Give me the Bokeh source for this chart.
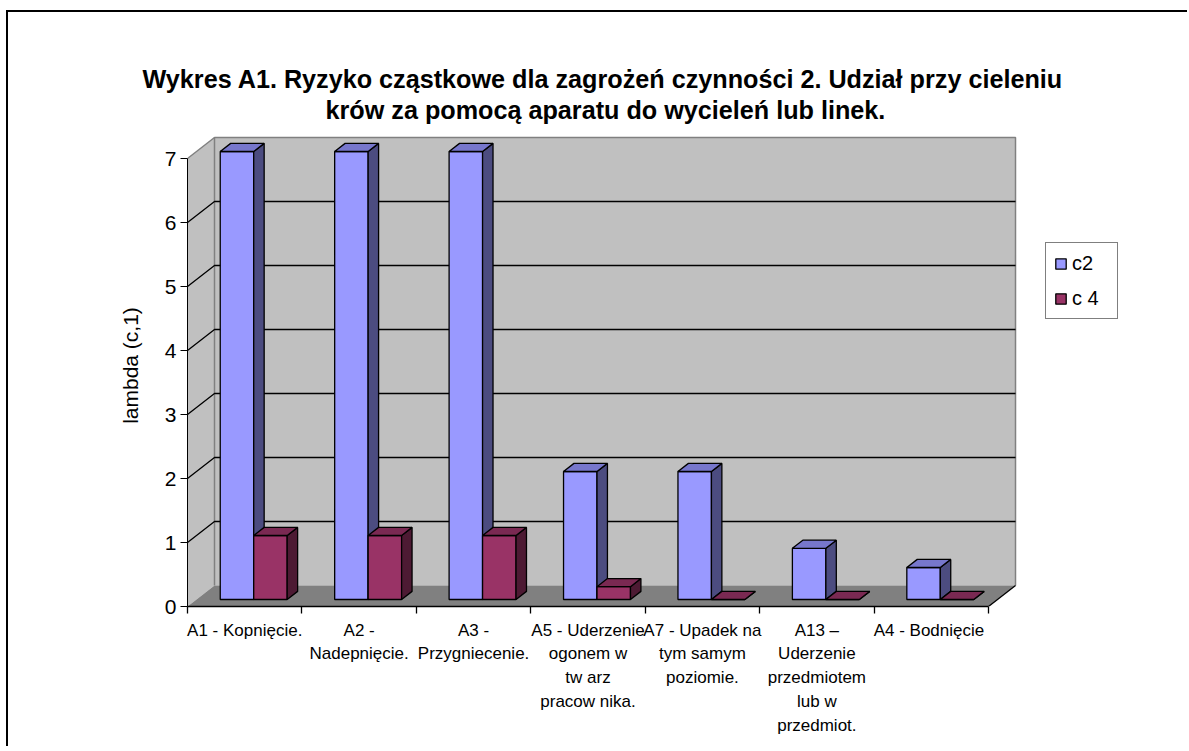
from bokeh.plotting import figure
from bokeh.models import (Range1d, FixedTicker, LinearAxis, Legend, LegendItem,
                          ColumnDataSource, Title)
from bokeh.embed import file_html
from bokeh.resources import INLINE

# ---------------- data ----------------
categories = [
    "A1 - Kopnięcie.",
    "A2 -\nNadepnięcie.",
    "A3 -\nPrzygniecenie.",
    "A5 - Uderzenie\nogonem w\ntw arz\npracow nika.",
    "A7 - Upadek na\ntym samym\npoziomie.",
    "A13 –\nUderzenie\nprzedmiotem\nlub w\nprzedmiot.",
    "A4  - Bodnięcie",
]
series_names = ["c2", "c 4"]
c2 = [7, 7, 7, 2, 2, 0.8, 0.5]
c4 = [1, 1, 1, 0.2, 0, 0, 0]
y_ticks = [0, 1, 2, 3, 4, 5, 6, 7]
title_lines = [
    "Wykres A1. Ryzyko cząstkowe dla zagrożeń czynności 2. Udział przy cieleniu",
    "krów za pomocą aparatu do wycieleń lub linek.",
]
y_label = "lambda (c,1)"

# ---------------- style / layout ----------------
FONT = "Liberation Sans"
OX, OY = 8, 12                                 # canvas origin on the page
W, H = 1181, 736
FL, FB, FT = 187 - OX, 606 - OY, 124 - OY      # frame edges in canvas px
FR = W
PX_CAT, PX_VAL = 114.43, 64.0                  # px per category / per unit
DX, DY = 27.0 / PX_CAT, 21.0 / PX_VAL          # full 3D depth in data units
F1, F2 = 1.0 / 3.0, 0.72                       # bar depth (front, back fraction)
BW = 0.2925                                    # bar width (category units)
TITLE_LEFT = [142, 325]                        # page x where each title line starts

blue = dict(front="#9999FF", side="#4C4C80", top="#7777CC")
red = dict(front="#993366", side="#4D1A33", top="#7A2952")

n = len(categories)
ymax = y_ticks[-1]

p = figure(width=W, height=H,
           x_range=Range1d(0, (FR - FL) / PX_CAT),
           y_range=Range1d(0, (FB - FT) / PX_VAL),
           x_axis_type=None, y_axis_type=None,
           output_backend="svg", toolbar_location=None,
           min_border_left=FL, min_border_right=0,
           min_border_top=FT, min_border_bottom=H - FB,
           title=None)
# chart-area border on the left and top only (drawn as a shadow, no layout effect)
p.styles = {"box-shadow": "-2px -2px 0 0 black",
            "margin-left": f"{OX}px", "margin-top": f"{OY}px"}
p.grid.visible = False
p.outline_line_color = None
p.background_fill_color = "white"
p.border_fill_color = "white"

# titles: second line nearest the frame, first line above it
for k, (line, stand) in enumerate([(title_lines[1], 2), (title_lines[0], 0)]):
    t = Title(text=line, align="left", offset=TITLE_LEFT[1 - k] - 187,
              text_font=FONT, text_font_size="25.2px", text_font_style="bold",
              text_color="black", standoff=stand)
    p.add_layout(t, "above")

# ---------------- walls ----------------
walls = ColumnDataSource(dict(
    xs=[[DX, n + DX, n + DX, DX], [0, DX, DX, 0], [0, n, n + DX, DX]],
    ys=[[DY, DY, ymax + DY, ymax + DY], [0, DY, ymax + DY, ymax], [0, 0, DY, DY]],
    fill=["#C0C0C0", "#C0C0C0", "#808080"],
))
p.patches("xs", "ys", source=walls, fill_color="fill", line_color=None)

# wall edges (grey)
p.multi_line(xs=[[DX, DX, n + DX, n + DX], [0, DX]],
             ys=[[DY, ymax + DY, ymax + DY, DY], [ymax, ymax + DY]],
             line_color="#808080", line_width=1.5)

# gridlines on back & side wall
gx, gy = [], []
for v in y_ticks[1:-1]:
    gx.append([0, DX, n + DX]); gy.append([v, v + DY, v + DY])
p.multi_line(xs=gx, ys=gy, line_color="black", line_width=1.3)

# floor right edge
p.line(x=[n, n + DX], y=[0, DY], line_color="black", line_width=1.3)

# ---------------- bars ----------------
def faces(values, j):
    fx, fy, sx, sy, tx, ty = [], [], [], [], [], []
    for i, v in enumerate(values):
        x0 = i + 0.5 - BW + j * BW
        x1 = x0 + BW
        a0, a1 = x0 + F1 * DX, x1 + F1 * DX
        b0, b1 = x0 + F2 * DX, x1 + F2 * DX
        y1, y2 = F1 * DY, F2 * DY
        fx.append([a0, a1, a1, a0]); fy.append([y1, y1, v + y1, v + y1])
        sx.append([a1, b1, b1, a1]); sy.append([y1, y2, v + y2, v + y1])
        tx.append([a0, a1, b1, b0]); ty.append([v + y1, v + y1, v + y2, v + y2])
    return fx, fy, sx, sy, tx, ty

legend_items = []
for j, (vals, col, name) in enumerate([(c2, blue, series_names[0]), (c4, red, series_names[1])]):
    fx, fy, sx, sy, tx, ty = faces(vals, j)
    rf = p.patches(fx, fy, fill_color=col["front"], line_color="black", line_width=1.3)
    p.patches(sx, sy, fill_color=col["side"], line_color="black", line_width=1.3)
    p.patches(tx, ty, fill_color=col["top"], line_color="black", line_width=1.3)
    legend_items.append(LegendItem(label=name, renderers=[rf]))

# ---------------- axes ----------------
yaxis = LinearAxis(ticker=FixedTicker(ticks=y_ticks, minor_ticks=[]), bounds=(0, ymax),
                   axis_label=y_label)
yaxis.axis_line_color = "black"
yaxis.major_tick_out = 7
yaxis.major_tick_in = 0
yaxis.minor_tick_line_color = None
yaxis.major_label_text_font = FONT
yaxis.major_label_text_font_size = "21px"
yaxis.major_label_text_color = "black"
yaxis.major_label_standoff = 4
yaxis.axis_label_text_font = FONT
yaxis.axis_label_text_font_size = "21px"
yaxis.axis_label_text_font_style = "normal"
yaxis.axis_label_text_color = "black"
yaxis.axis_label_standoff = 20
p.add_layout(yaxis, "left")

centers = [i + 0.5 for i in range(n)]
xaxis = LinearAxis(ticker=FixedTicker(ticks=centers, minor_ticks=list(range(n + 1))),
                   bounds=(0, n),
                   major_label_overrides={c: lab for c, lab in zip(centers, categories)})
xaxis.axis_line_color = "black"
xaxis.axis_line_width = 1.5
xaxis.major_tick_out = 0
xaxis.major_tick_in = 0
xaxis.minor_tick_out = 7
xaxis.minor_tick_in = 0
xaxis.minor_tick_line_color = "black"
xaxis.minor_tick_line_width = 1.3
xaxis.major_label_text_font = FONT
xaxis.major_label_text_font_size = "17px"
xaxis.major_label_text_color = "black"
xaxis.major_label_text_line_height = 1.25
xaxis.major_label_standoff = 7
p.add_layout(xaxis, "below")

# ---------------- legend ----------------
legend = Legend(items=legend_items, location=(1045 - 187, 606 - 319))
legend.border_line_color = "black"
legend.border_line_width = 1
legend.background_fill_color = "white"
legend.background_fill_alpha = 1
legend.label_text_font = FONT
legend.label_text_font_size = "20px"
legend.label_text_color = "black"
legend.glyph_width = 13
legend.glyph_height = 13
legend.label_height = 24
legend.label_width = 37
legend.label_standoff = 5
legend.spacing = 11
legend.padding = 8
legend.margin = 0
p.add_layout(legend)

open("out.html", "w").write(file_html(p, INLINE))
